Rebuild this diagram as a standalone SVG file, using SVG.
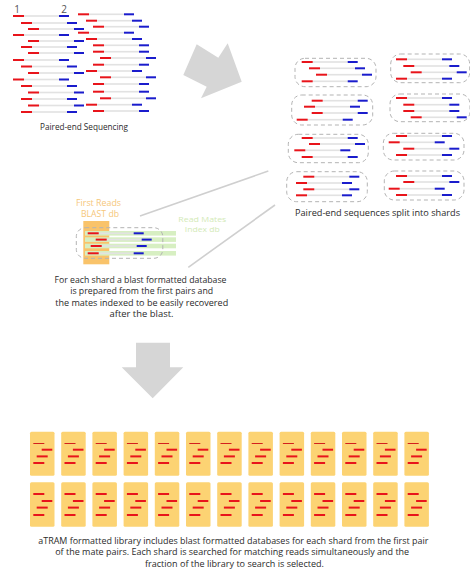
<svg xmlns="http://www.w3.org/2000/svg" xmlns:xlink="http://www.w3.org/1999/xlink" width="470" height="573" viewBox="0 0 470 573">
<style>
.t{font-family:"Open Sans","Liberation Sans",sans-serif;fill:#2b2b2b;font-size:8.5px;text-anchor:middle}
.lab{font-family:"Open Sans","Liberation Sans",sans-serif;font-size:6.8px;text-anchor:middle}
.num{font-family:"Open Sans","Liberation Sans",sans-serif;fill:#555;font-size:10px;text-anchor:middle}
.shard{fill:none;stroke:#b3b3b3;stroke-width:1;stroke-dasharray:4 3}
.big{fill:#d6d6d6}
.conn{stroke:#cfcfcf;stroke-width:1.6;fill:none}
.card{fill:#fcd373}
.r{fill:#e8141b}
</style>
<defs>
<g id="read">
<rect x="11" y="-0.8" width="35" height="1.6" fill="#e2e2e2"/>
<rect x="0" y="-1" width="11" height="2" fill="#e8141b"/>
<rect x="46" y="-1" width="10" height="2" fill="#1a1ccc"/>
</g>
<g id="c1">
<rect class="card" x="0" y="0" width="24.5" height="44" rx="1.5"/>
<rect x="3.3" y="11.3" width="11" height="1" fill="#d3201d"/>
<rect class="r" x="11.7" y="17" width="10.6" height="2"/>
<rect class="r" x="6.7" y="23.7" width="11" height="2"/>
<rect class="r" x="3.3" y="30.3" width="11" height="2"/>
</g>
<g id="c2">
<rect class="card" x="0" y="0" width="24.5" height="44.5" rx="1.5"/>
<rect class="r" x="3.3" y="10.7" width="11" height="2"/>
<rect class="r" x="11.7" y="17.7" width="10.6" height="2"/>
<rect class="r" x="6.7" y="24.3" width="11" height="2"/>
<rect class="r" x="3.3" y="31.7" width="11" height="2"/>
</g>
</defs>

<!-- Paired-end sequencing block -->
<g id="sequencing">
<text class="num" x="17" y="13">1</text>
<text class="num" x="64" y="13">2</text>
<use href="#read" x="13" y="16"/>
<use href="#read" x="21" y="23"/>
<use href="#read" x="28" y="29"/>
<use href="#read" x="13" y="35"/>
<use href="#read" x="28" y="41"/>
<use href="#read" x="21" y="47"/>
<use href="#read" x="28" y="53"/>
<use href="#read" x="13" y="60"/>
<use href="#read" x="21" y="66.5"/>
<use href="#read" x="28" y="73"/>
<use href="#read" x="13" y="79.5"/>
<use href="#read" x="21" y="86"/>
<use href="#read" x="28" y="92.5"/>
<use href="#read" x="21" y="99"/>
<use href="#read" x="28" y="105.5"/>
<use href="#read" x="21" y="112"/>
<use href="#read" x="78" y="14.3"/>
<use href="#read" x="86" y="20.7"/>
<use href="#read" x="93" y="26.7"/>
<use href="#read" x="78" y="32.7"/>
<use href="#read" x="86" y="39"/>
<use href="#read" x="93" y="45.3"/>
<use href="#read" x="93" y="51.7"/>
<use href="#read" x="100" y="58"/>
<use href="#read" x="93" y="64.7"/>
<use href="#read" x="86" y="71"/>
<use href="#read" x="100" y="77.3"/>
<use href="#read" x="93" y="84"/>
<use href="#read" x="93" y="91.7"/>
<use href="#read" x="100" y="98.3"/>
<use href="#read" x="86" y="104.7"/>
<use href="#read" x="93" y="111"/>
<text class="t" x="84" y="130" textLength="88" lengthAdjust="spacingAndGlyphs">Paired-end Sequencing</text>
</g>

<g id="arrow1">
<polygon class="big" points="183.3,75 196.7,44.3 218.3,57.7 227.7,43.3 241.7,81.7 201,98.3 206.7,86.7"/>
</g>

<!-- Shards -->
<g id="shards">
<rect class="shard" x="295" y="58.3" width="81" height="28.4" rx="10"/>
<use href="#read" x="301.7" y="62"/>
<use href="#read" x="309" y="68.3"/>
<use href="#read" x="316" y="74.7"/>
<use href="#read" x="301.7" y="81.3"/>

<rect class="shard" x="390.7" y="54" width="79" height="28.7" rx="10"/>
<use href="#read" x="396" y="59.3"/>
<use href="#read" x="403.3" y="66"/>
<use href="#read" x="410.7" y="72.3"/>
<use href="#read" x="396" y="78.7"/>

<rect class="shard" x="291.7" y="95" width="81" height="30" rx="10"/>
<use href="#read" x="311.7" y="100.7"/>
<use href="#read" x="304" y="106.7"/>
<use href="#read" x="311.7" y="113"/>
<use href="#read" x="296.7" y="119.7"/>

<rect class="shard" x="390" y="94" width="80" height="27.7" rx="10"/>
<use href="#read" x="396" y="98"/>
<use href="#read" x="403.3" y="104.7"/>
<use href="#read" x="403.3" y="111"/>
<use href="#read" x="410.7" y="117.3"/>

<rect class="shard" x="288.3" y="134.3" width="80" height="28.4" rx="10"/>
<use href="#read" x="301.7" y="138"/>
<use href="#read" x="309" y="144"/>
<use href="#read" x="294.3" y="150.3"/>
<use href="#read" x="301.7" y="157"/>

<rect class="shard" x="383.3" y="133.3" width="80.7" height="26.7" rx="10"/>
<use href="#read" x="396" y="136"/>
<use href="#read" x="388.7" y="142.3"/>
<use href="#read" x="403.3" y="148.7"/>
<use href="#read" x="396" y="155"/>

<rect class="shard" x="286.7" y="171.7" width="80.6" height="30" rx="10"/>
<use href="#read" x="303.3" y="176.7"/>
<use href="#read" x="296" y="183"/>
<use href="#read" x="303.3" y="189.3"/>
<use href="#read" x="296" y="195.3"/>

<rect class="shard" x="384.3" y="171" width="79.7" height="29" rx="10"/>
<use href="#read" x="396" y="176"/>
<use href="#read" x="403.3" y="182"/>
<use href="#read" x="388.7" y="188.7"/>
<use href="#read" x="396" y="195"/>
<text class="t" x="377.5" y="216" textLength="165" lengthAdjust="spacingAndGlyphs">Paired-end sequences  split into shards</text>
</g>

<g id="connectors">
<line class="conn" x1="140" y1="216" x2="268.3" y2="171"/>
<line class="conn" x1="188.3" y1="267.3" x2="275" y2="205"/>
</g>

<!-- Formatted shard detail -->
<g id="shard-db">
<rect x="83.3" y="221" width="26" height="43.3" fill="#f9c36a"/>
<rect x="85" y="231" width="91" height="4.6" fill="#d7efc2"/>
<rect x="85" y="237.3" width="91" height="4.6" fill="#d7efc2"/>
<rect x="85" y="243.7" width="91" height="4.6" fill="#d7efc2"/>
<rect x="85" y="251" width="91" height="4.6" fill="#d7efc2"/>
<use href="#read" x="87.7" y="233.3"/>
<use href="#read" x="95.7" y="239.6"/>
<use href="#read" x="90.7" y="246"/>
<use href="#read" x="87.7" y="253.3"/>
<rect class="shard" x="76.3" y="227.7" width="86.5" height="30.6" rx="9"/>
<text class="t" x="98.5" y="206" style="fill:#f6c77a" textLength="45" lengthAdjust="spacingAndGlyphs">First Reads</text>
<text class="t" x="100" y="216.7" style="fill:#f6c77a" textLength="38" lengthAdjust="spacingAndGlyphs">BLAST db</text>
<text class="lab" x="202.3" y="222.2" style="fill:#d3eab8" textLength="48" lengthAdjust="spacingAndGlyphs">Read Mates</text>
<text class="lab" x="202.3" y="231.8" style="fill:#d3eab8" textLength="35" lengthAdjust="spacingAndGlyphs">Index db</text>
<text class="t" x="140.5" y="282.7" textLength="172" lengthAdjust="spacingAndGlyphs">For each shard a blast formatted database</text>
<text class="t" x="141.7" y="294" textLength="143" lengthAdjust="spacingAndGlyphs">is prepared from the first pairs and</text>
<text class="t" x="141.7" y="305.7" textLength="173" lengthAdjust="spacingAndGlyphs">the mates indexed to be easily recovered</text>
<text class="t" x="141.5" y="317.3" textLength="64" lengthAdjust="spacingAndGlyphs">after the blast.</text>
</g>

<g id="arrow2">
<polygon class="big" points="136,342.7 170,342.7 170,367.3 183.3,367.3 152.7,398.3 121.7,367.3 136,367.3"/>
</g>

<!-- aTRAM library -->
<g id="library">
<use href="#c1" x="30" y="431.7"/>
<use href="#c1" x="61.2" y="431.7"/>
<use href="#c1" x="92.4" y="431.7"/>
<use href="#c1" x="123.6" y="431.7"/>
<use href="#c1" x="154.8" y="431.7"/>
<use href="#c1" x="186" y="431.7"/>
<use href="#c1" x="217.2" y="431.7"/>
<use href="#c1" x="248.4" y="431.7"/>
<use href="#c1" x="279.6" y="431.7"/>
<use href="#c1" x="310.8" y="431.7"/>
<use href="#c1" x="342" y="431.7"/>
<use href="#c1" x="373.2" y="431.7"/>
<use href="#c1" x="404.4" y="431.7"/>
<use href="#c2" x="30" y="482.3"/>
<use href="#c2" x="61.2" y="482.3"/>
<use href="#c2" x="92.4" y="482.3"/>
<use href="#c2" x="123.6" y="482.3"/>
<use href="#c2" x="154.8" y="482.3"/>
<use href="#c2" x="186" y="482.3"/>
<use href="#c2" x="217.2" y="482.3"/>
<use href="#c2" x="248.4" y="482.3"/>
<use href="#c2" x="279.6" y="482.3"/>
<use href="#c2" x="310.8" y="482.3"/>
<use href="#c2" x="342" y="482.3"/>
<use href="#c2" x="373.2" y="482.3"/>
<use href="#c2" x="404.4" y="482.3"/>
<text class="t" x="233.3" y="544" textLength="390" lengthAdjust="spacingAndGlyphs">aTRAM formatted library includes blast formatted databases for each shard from the first pair</text>
<text class="t" x="232.2" y="555.3" textLength="354" lengthAdjust="spacingAndGlyphs">of the mate pairs. Each shard is searched for matching reads simultaneously and the</text>
<text class="t" x="234.5" y="566.7" textLength="179" lengthAdjust="spacingAndGlyphs">fraction of the library to search is selected.</text>
</g>
</svg>
